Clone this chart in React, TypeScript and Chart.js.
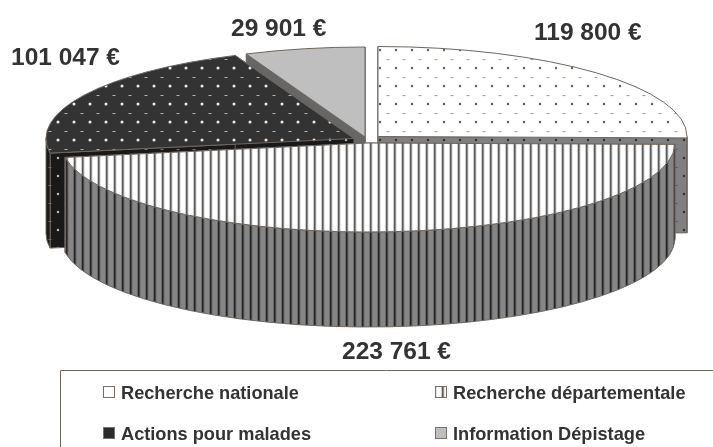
import React, { useEffect, useRef } from "react";
import { Chart, registerables } from "chart.js";

Chart.register(...registerables);

const categories = ["Recherche nationale", "Recherche départementale", "Actions pour malades", "Information Dépistage"];
const amounts = [119800, 223761, 101047, 29901];

// Layout of the exploded, tilted pie (one entry per slice)
const sliceCenters = [[378, 136.5], [368, 143], [354, 138.5], [365, 137]];
const sliceRadii = [[309, 90], [307, 89], [308, 90], [308, 90]];
const paintOrder = [3, 0, 2, 1];
const depth = 95;
const labelPositions = [[534, 40], [342, 359], [11, 65], [231, 36]];
const legendPositions = [[103, 386], [435, 386], [103, 427], [435, 427]];

const fmt = (n: number) => `${String(n).replace(/\B(?=(\d{3})+$)/g, " ")} €`;

function tile(w: number, h: number, paint: (c: CanvasRenderingContext2D) => void) {
  const cv = document.createElement("canvas");
  cv.width = w;
  cv.height = h;
  paint(cv.getContext("2d")!);
  return document.createElement("canvas").getContext("2d")!.createPattern(cv, "repeat")!;
}

function dots(bg: string, main: string, minor: string, mx: number, my: number, sx: number, sy: number, r = 1.25) {
  return tile(16, 18, (c) => {
    c.fillStyle = bg;
    c.fillRect(0, 0, 16, 18);
    c.fillStyle = main;
    c.beginPath();
    c.arc(mx, my, r, 0, Math.PI * 2);
    c.fill();
    c.fillStyle = minor;
    c.fillRect(sx - 1.5, sy, 3, 1);
  });
}

function stripes(bg: string, halo: string, line: string) {
  return tile(8, 8, (c) => {
    c.fillStyle = bg;
    c.fillRect(0, 0, 8, 8);
    c.fillStyle = halo;
    c.fillRect(1, 0, 3.5, 8);
    c.fillStyle = line;
    c.fillRect(2, 0, 1.5, 8);
  });
}

function tiltedPie(walls: (CanvasPattern | string)[], swatches: (CanvasPattern | string)[]) {
  return {
    id: "tiltedPie",
    beforeDatasetsDraw(chart: any) {
      const ctx: CanvasRenderingContext2D = chart.ctx;
      const arcs = chart.getDatasetMeta(0).data;
      const edge = "#6f665e";
      for (const i of paintOrder) {
        const arc = arcs[i];
        const { startAngle: a1, endAngle: a2, outerRadius: R, x, y } = arc.getProps(["startAngle", "endAngle", "outerRadius", "x", "y"], true);
        const [cx, cy] = sliceCenters[i];
        const [rx, ry] = sliceRadii[i];
        const px = (a: number) => cx + rx * Math.cos(a);
        const py = (a: number) => cy + ry * Math.sin(a);

        // radial walls
        ctx.fillStyle = walls[i];
        ctx.strokeStyle = edge;
        ctx.lineWidth = 1;
        for (const a of [a1, a2]) {
          ctx.beginPath();
          ctx.moveTo(cx, cy);
          ctx.lineTo(px(a), py(a));
          ctx.lineTo(px(a), py(a) + depth);
          ctx.lineTo(cx, cy + depth);
          ctx.closePath();
          ctx.fill();
          ctx.stroke();
        }
        // outer wall, front half only
        const lo = Math.max(a1, 0);
        const hi = Math.min(a2, Math.PI);
        if (hi > lo) {
          ctx.beginPath();
          ctx.ellipse(cx, cy, rx, ry, 0, lo, hi);
          ctx.ellipse(cx, cy + depth, rx, ry, 0, hi, lo, true);
          ctx.closePath();
          ctx.fill();
          ctx.stroke();
        }
        // top face, drawn by the library's arc under the tilt transform
        ctx.save();
        ctx.translate(cx, cy);
        ctx.scale(rx / R, ry / R);
        ctx.translate(-x, -y);
        const fill = arc.options.backgroundColor;
        if (fill instanceof CanvasPattern) fill.setTransform(ctx.getTransform().inverse());
        arc.draw(ctx);
        ctx.restore();
        // outline of the top face
        ctx.beginPath();
        ctx.moveTo(cx, cy);
        ctx.ellipse(cx, cy, rx, ry, 0, a1, a2);
        ctx.closePath();
        ctx.strokeStyle = edge;
        ctx.stroke();
      }
      return false;
    },
    afterDraw(chart: any) {
      const ctx: CanvasRenderingContext2D = chart.ctx;
      const values: number[] = chart.data.datasets[0].data;
      const labels: string[] = chart.data.labels;
      ctx.save();
      ctx.textBaseline = "alphabetic";
      ctx.textAlign = "left";
      ctx.fillStyle = "#333333";
      ctx.font = 'bold 24.5px "Liberation Sans"';
      values.forEach((v, i) => ctx.fillText(fmt(v), labelPositions[i][0], labelPositions[i][1]));

      // legend frame
      ctx.strokeStyle = "#6f665e";
      ctx.lineWidth = 1;
      ctx.beginPath();
      ctx.moveTo(60.5, 447);
      ctx.lineTo(60.5, 370.5);
      ctx.lineTo(713, 370.5);
      ctx.stroke();

      ctx.font = 'bold 18.2px "Liberation Sans"';
      labels.forEach((t, i) => {
        const [sx, sy] = legendPositions[i];
        ctx.fillStyle = swatches[i];
        ctx.fillRect(sx + 0.5, sy + 0.5, 11, 11);
        ctx.strokeStyle = "#77716a";
        ctx.strokeRect(sx + 0.5, sy + 0.5, 11, 11);
        ctx.fillStyle = "#333333";
        ctx.fillText(t, sx + 18, sy + 12.5);
      });
      ctx.restore();
    },
  };
}

export default function App() {
  const ref = useRef<HTMLCanvasElement>(null);
  useEffect(() => {
    const tops = [
      dots("#ffffff", "#666666", "#999999", 12, 14, 4, 5),
      stripes("#ffffff", "#c8c8c8", "#5a5a5a"),
      dots("#333333", "#eeeeee", "#b4b4b4", 10, 14, 2, 5, 1.5),
      "#bfbfbf",
    ];
    const walls = [
      dots("#808080", "#333333", "#555555", 12, 14, 4, 5),
      stripes("#868686", "#666666", "#262626"),
      dots("#191919", "#bbbbbb", "#777777", 10, 14, 2, 5),
      "#666666",
    ];
    const swatches = ["#ffffff", stripes("#ffffff", "#c8c8c8", "#5a5a5a"), "#2b2b2b", "#bfbfbf"];
    const chart: any = new Chart(ref.current!, {
      type: "pie",
      data: {
        labels: categories,
        datasets: [{ data: amounts, backgroundColor: tops as any, borderWidth: 0 }],
      },
      options: {
        animation: false,
        responsive: false,
        devicePixelRatio: 1,
        events: [],
        plugins: { legend: { display: false }, tooltip: { enabled: false } },
      },
      plugins: [tiltedPie(walls, swatches) as any],
    } as any);
    return () => chart.destroy();
  }, []);
  return (
    <div style={{ position: "absolute", left: 0, top: 0, width: 713, height: 447, overflow: "hidden", background: "#fff" }}>
      <canvas ref={ref} width={713} height={447} style={{ display: "block" }} />
    </div>
  );
}
